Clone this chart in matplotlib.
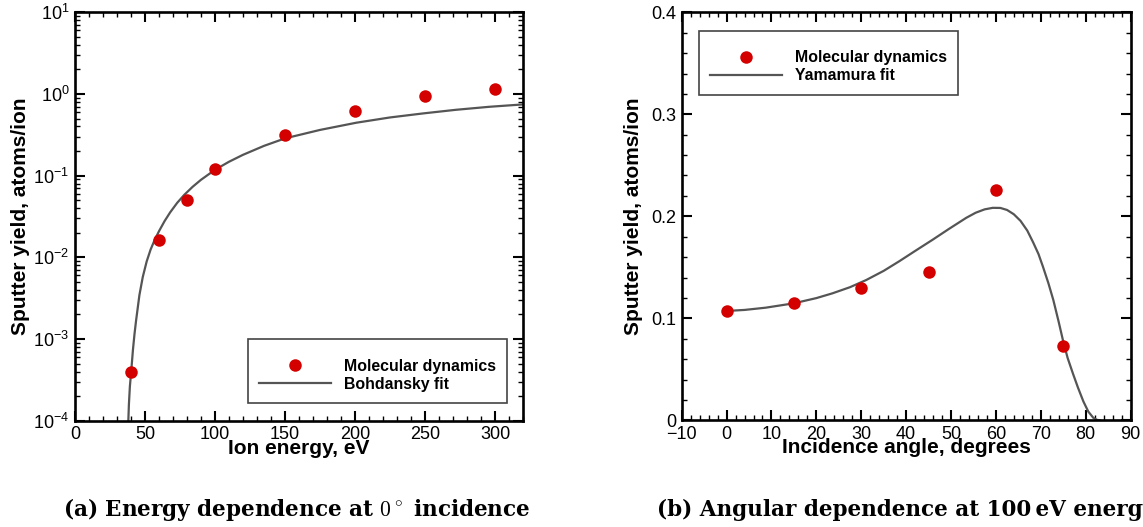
import matplotlib
matplotlib.use("Agg")
import matplotlib.pyplot as plt
from matplotlib.ticker import MultipleLocator, LogLocator, FixedLocator, FixedFormatter, NullFormatter

# (a) energy dependence, 0 deg incidence
md_energy = [40, 60, 80, 100, 150, 200, 250, 300]
md_yield_e = [4.0e-4, 0.0164, 0.0503, 0.119, 0.314, 0.622, 0.951, 1.14]

bohdansky_e = [38.1, 38.5, 39.2, 40.0, 41.4, 42.5, 43.6, 46.0, 48.4, 51.2, 54.0, 56.7,
               60.0, 64.0, 68.0, 73.0, 78.0, 84.0, 90.0, 100.0, 110.0, 120.0, 135.0,
               150.0, 175.0, 201.0, 225.0, 249.0, 272.0, 296.0, 320.0]
bohdansky_y = [1.0e-4, 1.58e-4, 2.63e-4, 3.74e-4, 7.41e-4, 1.15e-3, 1.67e-3, 3.44e-3,
               5.74e-3, 8.91e-3, 0.01245, 0.01603, 0.0209, 0.0278, 0.0356, 0.0465, 0.0581,
               0.0730, 0.0890, 0.118, 0.148, 0.180, 0.2316, 0.286, 0.363, 0.445, 0.516,
               0.579, 0.640, 0.697, 0.745]

# (b) angular dependence, 100 eV
md_angle = [0, 15, 30, 45, 60, 75]
md_yield_a = [0.107, 0.1153, 0.1294, 0.1457, 0.2255, 0.0731]

yamamura_deg = [0, 4, 8.7, 15, 20, 23.6, 27.5, 31.1, 35, 38.5, 42, 45.9, 49.5, 53.4, 55.5,
                57.5, 59.3, 61, 62.5, 64, 65.5, 67, 68.3, 69.5, 70.5, 71.7, 72.8, 74.0,
                75.0, 76.0, 77.2, 78.3, 79.5, 80.6, 81.7, 82.5, 83.2]
yamamura_y = [0.1072, 0.1082, 0.1104, 0.1147, 0.1198, 0.1245, 0.1305, 0.1375, 0.1465,
              0.1560, 0.1660, 0.1770, 0.1875, 0.1985, 0.2035, 0.2068, 0.2083, 0.2082,
              0.2062, 0.2020, 0.1955, 0.1860, 0.1745, 0.1630, 0.1505, 0.1345, 0.1180,
              0.0965, 0.0775, 0.0610, 0.0455, 0.0320, 0.0185, 0.0085, 0.0025, 0.0005, 0.0]

log_ticks = [1e-4, 1e-3, 1e-2, 1e-1, 1e0, 1e1]
log_labels = [r"$10^{-4}$", r"$10^{-3}$", r"$10^{-2}$", r"$10^{-1}$", r"$10^{0}$", r"$10^{1}$"]
lin_ticks = [0, 0.1, 0.2, 0.3, 0.4]
lin_labels = ["0", "0.1", "0.2", "0.3", "0.4"]

plt.rcParams["font.family"] = ["Liberation Sans", "DejaVu Sans"]
plt.rcParams["mathtext.fontset"] = "custom"
plt.rcParams["mathtext.rm"] = "Liberation Sans"
plt.rcParams["mathtext.it"] = "Liberation Sans:italic"
plt.rcParams["mathtext.bf"] = "Liberation Sans:bold"

red = "#d40000"
grey = "#555555"

fig = plt.figure(figsize=(11.43, 5.27), dpi=100)
ax1 = fig.add_axes([75 / 1143, 106.3 / 527, 448 / 1143, 408.4 / 527])
ax2 = fig.add_axes([681.7 / 1143, 106.7 / 527, 448.8 / 1143, 408 / 527])


def style(ax):
    for s in ax.spines.values():
        s.set_linewidth(1.9)
        s.set_color("black")
    ax.tick_params(which="both", direction="in", top=True, right=True, labelsize=13, pad=4)
    ax.tick_params(which="major", length=7, width=1.5)
    ax.tick_params(which="minor", length=3.5, width=1)


def add_legend(ax, anchor):
    h, l = ax.get_legend_handles_labels()
    leg = ax.legend([h[1], h[0]], [l[1], l[0]], loc="upper left", bbox_to_anchor=anchor,
                    borderaxespad=0, prop={"weight": "bold", "size": 11.4},
                    title=" ", title_fontsize=4,
                    handlelength=4.5, handletextpad=0.82, borderpad=0.7, labelspacing=0.2,
                    fancybox=False, framealpha=1, edgecolor="#444444", numpoints=1)
    leg.get_frame().set_linewidth(1.2)
    return leg


# ---- (a)
ax1.plot(bohdansky_e, bohdansky_y, color=grey, lw=1.6, label="Bohdansky fit", zorder=2)
ax1.plot(md_energy, md_yield_e, "o", color=red, ms=9, mew=0, label="Molecular dynamics", zorder=3)
ax1.set_yscale("log")
ax1.set_xlim(0, 320)
ax1.set_ylim(1e-4, 1e1)
ax1.xaxis.set_major_locator(MultipleLocator(50))
ax1.xaxis.set_minor_locator(MultipleLocator(10))
ax1.yaxis.set_major_locator(FixedLocator(log_ticks))
ax1.yaxis.set_major_formatter(FixedFormatter(log_labels))
ax1.yaxis.set_minor_locator(LogLocator(base=10, subs=range(2, 10)))
ax1.yaxis.set_minor_formatter(NullFormatter())
style(ax1)
ax1.set_xlabel("Ion energy, eV", fontsize=15, fontweight="bold")
ax1.set_ylabel("Sputter yield, atoms/ion", fontsize=15, fontweight="bold")
ax1.xaxis.set_label_coords(0.5, -0.044)
ax1.yaxis.set_label_coords(-0.1, 0.5)
add_legend(ax1, (0.387, 0.199))

# ---- (b)
ax2.plot(yamamura_deg, yamamura_y, color=grey, lw=1.6, label="Yamamura fit", zorder=2)
ax2.plot(md_angle, md_yield_a, "o", color=red, ms=9, mew=0, label="Molecular dynamics", zorder=3)
ax2.set_xlim(-10, 90)
ax2.set_ylim(0, 0.4)
ax2.xaxis.set_major_locator(MultipleLocator(10))
ax2.xaxis.set_minor_locator(MultipleLocator(2))
ax2.set_yticks(lin_ticks)
ax2.set_yticklabels(lin_labels)
ax2.yaxis.set_minor_locator(MultipleLocator(0.02))
style(ax2)
ax2.set_xlabel("Incidence angle, degrees", fontsize=15, fontweight="bold")
ax2.set_ylabel("Sputter yield, atoms/ion", fontsize=15, fontweight="bold")
ax2.xaxis.set_label_coords(0.5, -0.044)
ax2.yaxis.set_label_coords(-0.086, 0.5)
add_legend(ax2, (0.039, 0.954))

# captions
fig.text(297 / 1143, 11 / 527, "(a) Energy dependence at $0^\\circ$ incidence",
         family="DejaVu Serif", weight="bold", math_fontfamily="cm", fontsize=15.5,
         ha="center", va="baseline")
fig.text(906 / 1143, 11 / 527, "(b) Angular dependence at 100\u2009eV energy",
         family="DejaVu Serif", weight="bold", fontsize=15.5, ha="center", va="baseline")

fig.savefig("out.png", dpi=100)
